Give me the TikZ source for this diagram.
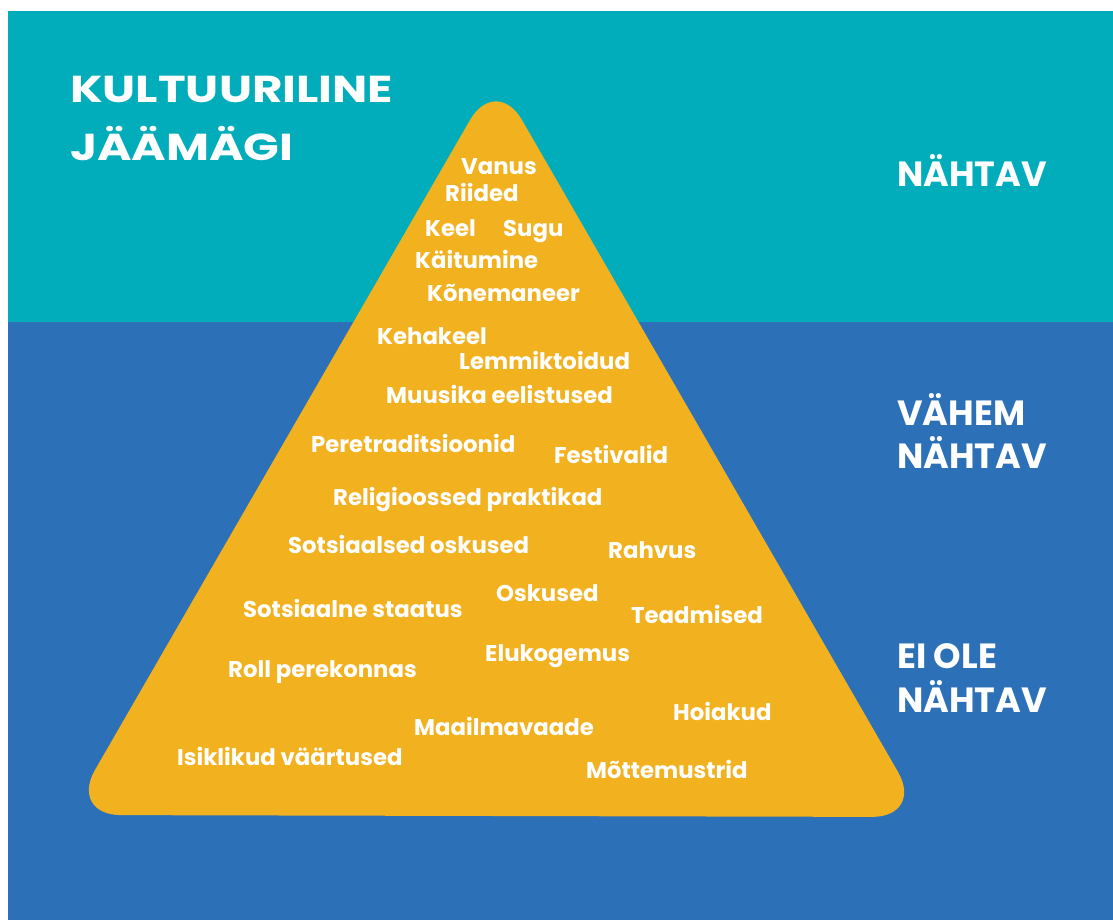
\documentclass[tikz,border=0pt]{standalone}
\usepackage{fontspec}
\setmainfont{Poppins}[BoldFont={* Bold}]
\definecolor{teal}{HTML}{01ADBB}
\definecolor{deepblue}{HTML}{2C70B8}
\definecolor{gold}{HTML}{F2B11E}
\begin{document}
\begin{tikzpicture}[x=1pt,y=-1pt,
  word/.style={anchor=base west,inner sep=0pt,text=white,font=\fontsize{22.8}{26}\selectfont\bfseries},
  head/.style={anchor=base west,inner sep=0pt,text=white,font=\fontsize{37.5}{45}\selectfont\bfseries},
  side/.style={anchor=base west,inner sep=0pt,text=white,font=\fontsize{35}{42}\selectfont\bfseries}]
\useasboundingbox (0,0) rectangle (1113,920);
\fill[white] (0,0) rectangle (1113,920);
\fill[teal] (8,11) rectangle (1113,322);
\fill[deepblue] (8,322) rectangle (1113,920);
\fill[gold,rounded corners=52] (496,816) -- (924,817) -- (496,75) -- (69,815) -- cycle;
\node[head] (title1) at (70,102.7) {\scalebox{1.25}[1]{KULTUURILINE}};
\node[head] (title2) at (70,161) {\scalebox{1.25}[1]{JÄÄMÄGI}};
\node[side] (s1) at (897,187) {NÄHTAV};
\node[side] (s2a) at (897,425) {VÄHEM};
\node[side] (s2b) at (897,468) {NÄHTAV};
\node[side] (s3a) at (897,668) {EI OLE};
\node[side] (s3b) at (897,712) {NÄHTAV};
\node[word] (w1) at (461,175) {Vanus};
\node[word] (w2) at (445,201) {Riided};
\node[word] (w3) at (425,236.7) {Keel};
\node[word] (w4) at (503,236.7) {Sugu};
\node[word] (w5) at (415,268) {Käitumine};
\node[word] (w6) at (427,301.7) {Kõnemaneer};
\node[word] (w7) at (377,344) {Kehakeel};
\node[word] (w8) at (459,369) {Lemmiktoidud};
\node[word] (w9) at (386,403) {Muusika eelistused};
\node[word] (w10) at (311,452) {Peretraditsioonid};
\node[word] (w11) at (554,463) {Festivalid};
\node[word] (w12) at (333,505) {Religioossed praktikad};
\node[word] (w13) at (288,553) {Sotsiaalsed oskused};
\node[word] (w14) at (608,558) {Rahvus};
\node[word] (w15) at (496,601) {Oskused};
\node[word] (w16) at (243,617) {Sotsiaalne staatus};
\node[word] (w17) at (631,623) {Teadmised};
\node[word] (w18) at (485,661) {Elukogemus};
\node[word] (w19) at (228,677.7) {Roll perekonnas};
\node[word] (w20) at (414,735.7) {Maailmavaade};
\node[word] (w21) at (673,720) {Hoiakud};
\node[word] (w22) at (177,765) {Isiklikud väärtused};
\node[word] (w23) at (586,778) {Mõttemustrid};
\end{tikzpicture}
\end{document}
